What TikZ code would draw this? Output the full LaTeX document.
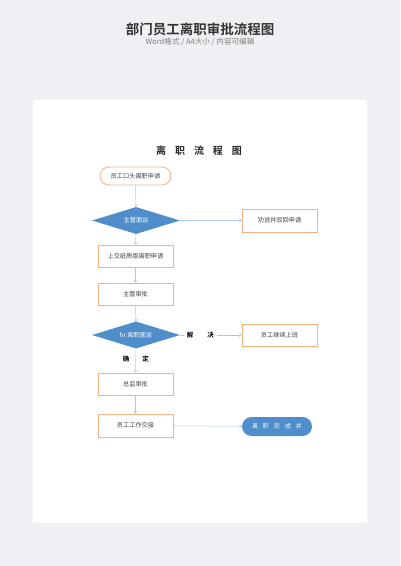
\documentclass[tikz,border=0pt]{standalone}
\usepackage{fontspec}
\setmainfont{Noto Sans CJK SC}
\newfontfamily\cjkb{Noto Sans CJK SC}[BoldFont={* Bold}]
\usetikzlibrary{shapes.geometric,arrows.meta}
\definecolor{bgc}{HTML}{EEF0F4}
\definecolor{orangeb}{HTML}{F4B183}
\definecolor{bluef}{HTML}{4F8DCB}
\definecolor{linec}{HTML}{A9C8E8}
\definecolor{txt}{HTML}{404040}
\tikzset{
  procbox/.style={draw=orangeb, line width=0.8pt, fill=white, minimum width=75pt, minimum height=22pt, inner sep=0pt, font=\fontsize{6.2}{7}\selectfont, text=txt},
  startbox/.style={draw=orangeb, line width=0.8pt, fill=white, rounded corners=9pt, minimum width=71pt, minimum height=18pt, inner sep=0pt, font=\fontsize{6.2}{7}\selectfont, text=txt},
  decbox/.style={diamond, aspect=3.26, fill=bluef, draw=none, minimum width=88pt, minimum height=27pt, inner sep=0pt, font=\fontsize{6.2}{7}\selectfont, text=white},
  endbox/.style={fill=bluef, rounded corners=9.5pt, minimum width=70pt, minimum height=19pt, inner sep=0pt, font=\fontsize{6}{7}\selectfont, text=white},
  conn/.style={draw=linec, line width=0.5pt, -{Straight Barb[length=2pt,width=4pt]}},
  lbl/.style={font=\cjkb\bfseries\fontsize{6.5}{7}\selectfont, text=black, inner sep=1pt}
}
\begin{document}
\begin{tikzpicture}[x=1pt,y=-1pt]
\useasboundingbox (0,0) rectangle (400,566);
\fill[bgc] (0,0) rectangle (400,566);
\fill[black!6] (32,99) rectangle (368,524);
\fill[white] (33,100) rectangle (367,523);
\node[font=\cjkb\bfseries\fontsize{13.5}{15}\selectfont, text=black!80] (maintitle) at (200,29) {部门员工离职审批流程图};
\node[font=\fontsize{7.6}{9}\selectfont, text=black!50] (subtitle) at (200,42) {Word格式 / A4大小 / 内容可编辑};
\node[font=\cjkb\bfseries\fontsize{10}{12}\selectfont, text=black!85] (title) at (199,151) {离\hspace{9pt}职\hspace{9pt}流\hspace{9pt}程\hspace{9pt}图};
\node[startbox] (n1) at (135.5,176) {员工口头离职申请};
\node[decbox] (d1) at (136,220.5) {主管面谈};
\node[procbox, minimum height=23pt] (r1) at (279.5,220.5) {劝说并驳回申请};
\node[procbox] (n2) at (135.5,256) {上交纸质版离职申请};
\node[procbox] (n3) at (135.5,294) {主管审批};
\node[decbox] (d2) at (136,335) {hr 离职面谈};
\node[procbox] (r2) at (279.5,335) {员工继续上班};
\node[procbox] (n4) at (135.5,384) {总监审批};
\node[procbox, minimum height=23pt] (n5) at (135.5,425.5) {员工工作交接};
\node[endbox] (e1) at (277,426.5) {离\hspace{5pt}职\hspace{5pt}完\hspace{5pt}成\hspace{5pt}并};
\draw[conn] (n1) -- (d1);
\draw[conn] (d1) -- (r1);
\draw[conn] (d1) -- (n2);
\draw[conn] (n2) -- (n3);
\draw[conn] (n3) -- (d2);
\draw[conn] (d2.east) -- node[lbl, fill=white, pos=0.33, inner xsep=3pt] (lj) {解\hspace{14pt}决} (r2.west);
\draw[conn] (d2) -- node[lbl, pos=0.45] (lq) {确\hspace{13pt}定} (n4);
\draw[conn] (n4) -- (n5);
\draw[conn] (n5) -- (e1);
\end{tikzpicture}
\end{document}
